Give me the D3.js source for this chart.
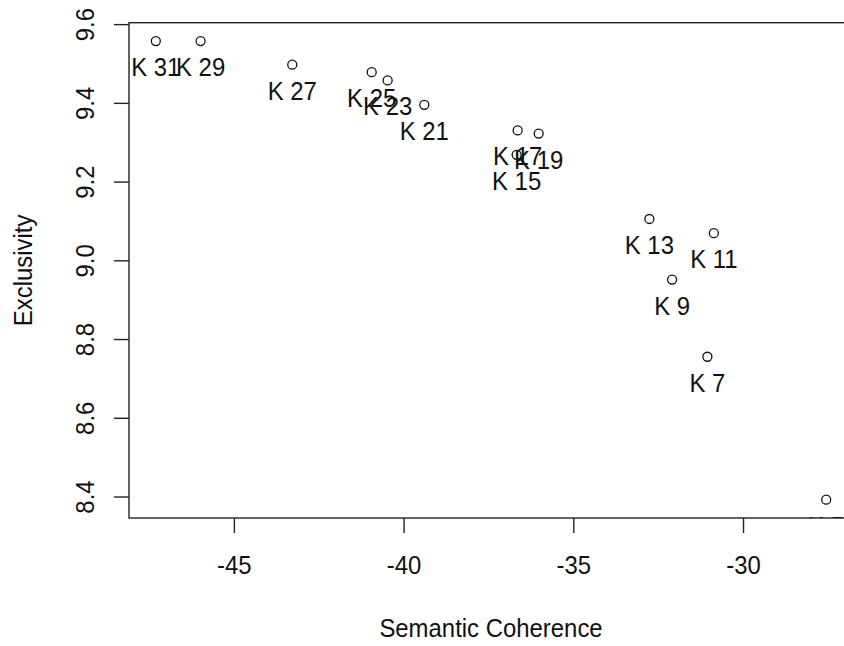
<!DOCTYPE html>
<html>
<head>
<meta charset="utf-8">
<style>
    body { margin: 0; background: #fff; }
    svg { display: block; font-family: 'Liberation Sans', Arial, sans-serif; }
    .axis .domain { display: none; }
    .axis .tick line { stroke: #222; stroke-width: 1.4; }
    .axis .tick text { font-size: 26px; fill: #111; }
    .lab { font-size: 26px; fill: #111; }
    .title { font-size: 26px; fill: #111; }
</style>
</head>
<body>
<svg width="844" height="646"></svg>

<script src="https://d3js.org/d3.v7.min.js"></script>
<script>
    // topic labels and their scores
    let labels = ["K 5", "K 7", "K 9", "K 11", "K 13", "K 15", "K 17", "K 19", "K 21", "K 23", "K 25", "K 27", "K 29", "K 31"]
    let coherence = [-27.55, -31.05, -32.09, -30.86, -32.76, -36.67, -36.64, -36.02, -39.39, -40.47, -40.94, -43.28, -45.98, -47.30]
    let exclusivity = [8.392, 8.755, 8.951, 9.069, 9.105, 9.268, 9.330, 9.322, 9.395, 9.457, 9.478, 9.497, 9.557, 9.557]

    let xTicks = [-45, -40, -35, -30]
    let yTicks = [8.4, 8.6, 8.8, 9.0, 9.2, 9.4, 9.6]

    let xTitle = "Semantic Coherence"
    let yTitle = "Exclusivity"

    let svg = d3.select("svg")
    let plot = { left: 129, right: 853, top: 22.7, bottom: 518 }
    let squeeze = 0.92  // the reference font is a bit narrow

    // R style: pad the data range by 4% each side
    function pad(ext) {
        let d = (ext[1] - ext[0]) * 0.04
        return [ext[0] - d, ext[1] + d]
    }

    let x = d3.scaleLinear()
        .domain(pad(d3.extent(coherence)))
        .range([plot.left, plot.right])

    let y = d3.scaleLinear()
        .domain(pad(d3.extent(exclusivity)))
        .range([plot.bottom, plot.top])

    svg.append("clipPath")
        .attr("id", "clip")
        .append("rect")
        .attr("x", plot.left)
        .attr("y", plot.top)
        .attr("width", plot.right - plot.left)
        .attr("height", plot.bottom - plot.top)

    // x axis (plain hyphen for minus, like R)
    svg.append("g")
        .attr("class", "axis")
        .attr("transform", `translate(0,${plot.bottom})`)
        .call(d3.axisBottom(x).tickValues(xTicks).tickSize(15).tickFormat(d => String(d)))
        .call(g => g.selectAll(".tick text")
            .attr("y", null).attr("dy", null)
            .attr("transform", `translate(0,56) scale(${squeeze},1)`))

    // y axis, labels turned like R does
    svg.append("g")
        .attr("class", "axis")
        .attr("transform", `translate(${plot.left},0)`)
        .call(d3.axisLeft(y).tickValues(yTicks).tickSize(15).tickFormat(d => d.toFixed(1)))
        .call(g => g.selectAll(".tick text")
            .attr("x", null).attr("dy", null)
            .attr("text-anchor", "middle")
            .attr("transform", `translate(-35,0) rotate(-90) scale(${squeeze},1)`))

    // box
    svg.append("rect")
        .attr("x", plot.left)
        .attr("y", plot.top)
        .attr("width", plot.right - plot.left)
        .attr("height", plot.bottom - plot.top)
        .attr("fill", "none")
        .attr("stroke", "#222")
        .attr("stroke-width", 1.4)

    let pts = labels.map((l, i) => ({ label: l, cx: coherence[i], ex: exclusivity[i] }))

    let marks = svg.append("g").attr("clip-path", "url(#clip)")

    marks.selectAll("circle")
        .data(pts)
        .join("circle")
        .attr("cx", d => x(d.cx))
        .attr("cy", d => y(d.ex))
        .attr("r", 4.5)
        .attr("fill", "none")
        .attr("stroke", "#111")
        .attr("stroke-width", 1.3)

    marks.selectAll("text")
        .data(pts)
        .join("text")
        .attr("class", "lab")
        .attr("text-anchor", "middle")
        .attr("transform", d => `translate(${x(d.cx)},${y(d.ex) + 35}) scale(${squeeze},1)`)
        .text(d => d.label)

    // titles
    svg.append("text")
        .attr("class", "title")
        .attr("text-anchor", "middle")
        .attr("transform", `translate(${(plot.left + plot.right) / 2},637) scale(${squeeze},1)`)
        .text(xTitle)

    svg.append("text")
        .attr("class", "title")
        .attr("text-anchor", "middle")
        .attr("transform", `translate(32,${(plot.top + plot.bottom) / 2}) rotate(-90) scale(${squeeze},1)`)
        .text(yTitle)
</script>
</body>
</html>
